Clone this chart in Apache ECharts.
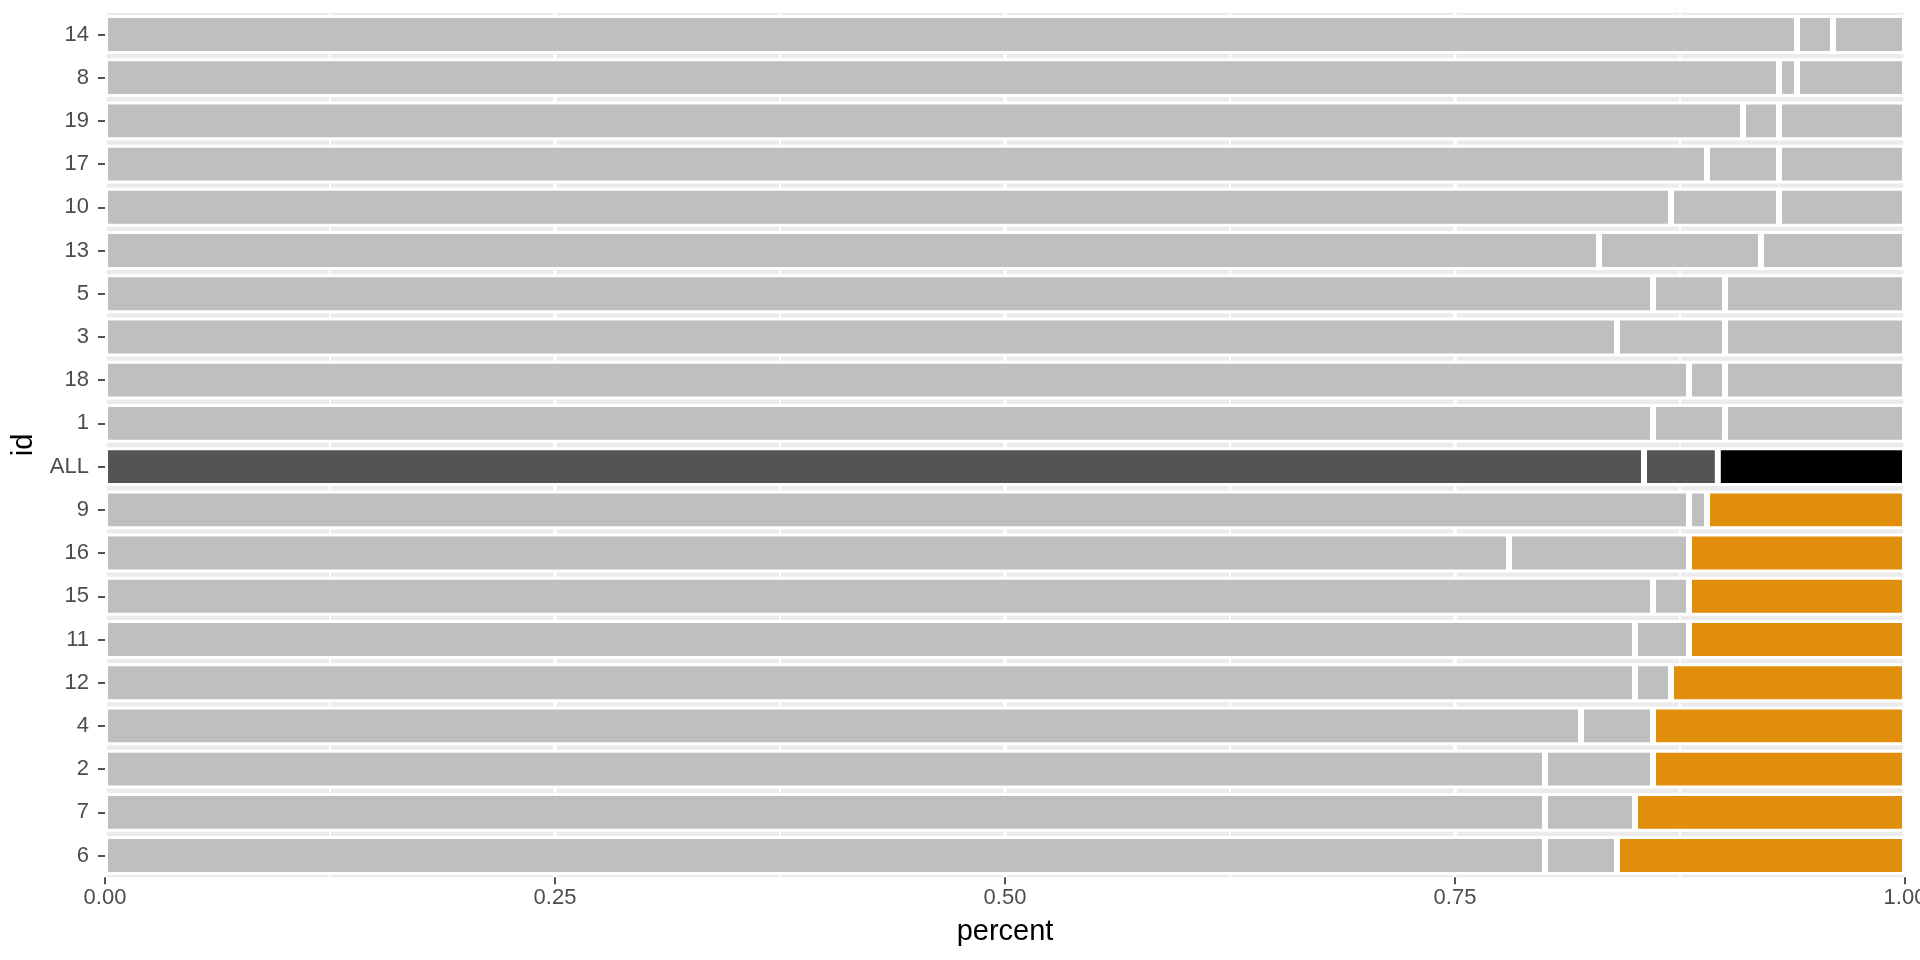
<!DOCTYPE html>
<html>
<head>
<meta charset="utf-8">
<script src="https://cdn.jsdelivr.net/npm/echarts@6/dist/echarts.min.js"></script>
<style>
html,body{margin:0;padding:0;background:#fff;overflow:hidden;width:1920px;height:960px;}
#chart{width:1920px;height:960px;display:block;}
</style>
</head>
<body>
<div id="chart"></div>
<script>
// Categories from bottom to top
var categories = ["6","7","2","4","12","11","15","16","9","ALL","1","18","3","5","13","10","17","19","8","14"];
// group of each category: 'flag' (orange last segment), 'all' (overall), 'ok' (gray)
var groups = ["flag","flag","flag","flag","flag","flag","flag","flag","flag","all","ok","ok","ok","ok","ok","ok","ok","ok","ok","ok"];
// segment shares
var seg1 = [0.80,0.80,0.80,0.82,0.85,0.85,0.86,0.78,0.88,0.855,0.86,0.88,0.84,0.86,0.83,0.87,0.89,0.91,0.93,0.94];
var seg2 = [0.04,0.05,0.06,0.04,0.02,0.03,0.02,0.10,0.01,0.041,0.04,0.02,0.06,0.04,0.09,0.06,0.04,0.02,0.01,0.02];
var seg3 = [0.16,0.15,0.14,0.14,0.13,0.12,0.12,0.12,0.11,0.104,0.10,0.10,0.10,0.10,0.08,0.07,0.07,0.07,0.06,0.04];
var xTicks = [0, 0.25, 0.5, 0.75, 1];

var GRAY = "#BFBFBF", DARK = "#545454", BLACK = "#000000", ORANGE = "#E08E0B";
function colorFor(seg, g) {
  if (g === "all") return seg === 3 ? BLACK : DARK;
  if (seg === 3 && g === "flag") return ORANGE;
  return GRAY;
}
function build(arr, seg) {
  return arr.map(function (v, i) {
    return { value: v, itemStyle: { color: colorFor(seg, groups[i]) } };
  });
}

var FONT = "Liberation Sans, Arial, sans-serif";
var pitch = 860 / 19.9;
var gridTop = 15 - 0.05 * pitch;
var gridH = 20 * pitch;

var chart = echarts.init(document.getElementById("chart"), null, { renderer: "canvas", width: 1920, height: 960 });
var common = {
  type: "bar",
  stack: "total",
  barWidth: "90%",
  itemStyle: { borderColor: "#ffffff", borderWidth: 3 },
  emphasis: { disabled: true },
  silent: true
};
chart.setOption({
  animation: false,
  backgroundColor: "#ffffff",
  textStyle: { fontFamily: FONT },
  grid: {
    left: 105, right: 15, top: gridTop, height: gridH,
    show: true, backgroundColor: "#EBEBEB", borderWidth: 0, containLabel: false,
    outerBoundsMode: "none"
  },
  xAxis: {
    type: "value",
    min: xTicks[0], max: xTicks[xTicks.length - 1], interval: 0.25,
    name: "percent", nameLocation: "middle", nameGap: 40,
    nameTextStyle: { fontSize: 29, color: "#000000", fontFamily: FONT },
    axisLine: { show: false },
    axisTick: { show: true, length: 7, lineStyle: { color: "#333333", width: 1.7 } },
    axisLabel: {
      fontSize: 22, color: "#4D4D4D", margin: 10, fontFamily: FONT,
      hideOverlap: false,
      formatter: function (v) { return v.toFixed(2); }
    },
    splitLine: { show: true, lineStyle: { color: "#ffffff", width: 3.5 } },
    minorTick: { show: false, splitNumber: 2 },
    minorSplitLine: { show: true, lineStyle: { color: "#ffffff", width: 1.8 } }
  },
  yAxis: {
    type: "category",
    data: categories,
    name: "id", nameLocation: "middle", nameGap: 64, nameRotate: 90,
    nameTextStyle: { fontSize: 29, color: "#000000", fontFamily: FONT },
    axisLine: { show: false },
    axisTick: { show: true, alignWithLabel: true, length: 7, lineStyle: { color: "#333333", width: 1.7 } },
    axisLabel: { fontSize: 22, color: "#4D4D4D", margin: 16, fontFamily: FONT },
    splitLine: { show: false }
  },
  series: [
    Object.assign({ name: "a", data: build(seg1, 1) }, common),
    Object.assign({ name: "b", data: build(seg2, 2) }, common),
    Object.assign({ name: "c", data: build(seg3, 3) }, common)
  ]
});
</script>
</body>
</html>
